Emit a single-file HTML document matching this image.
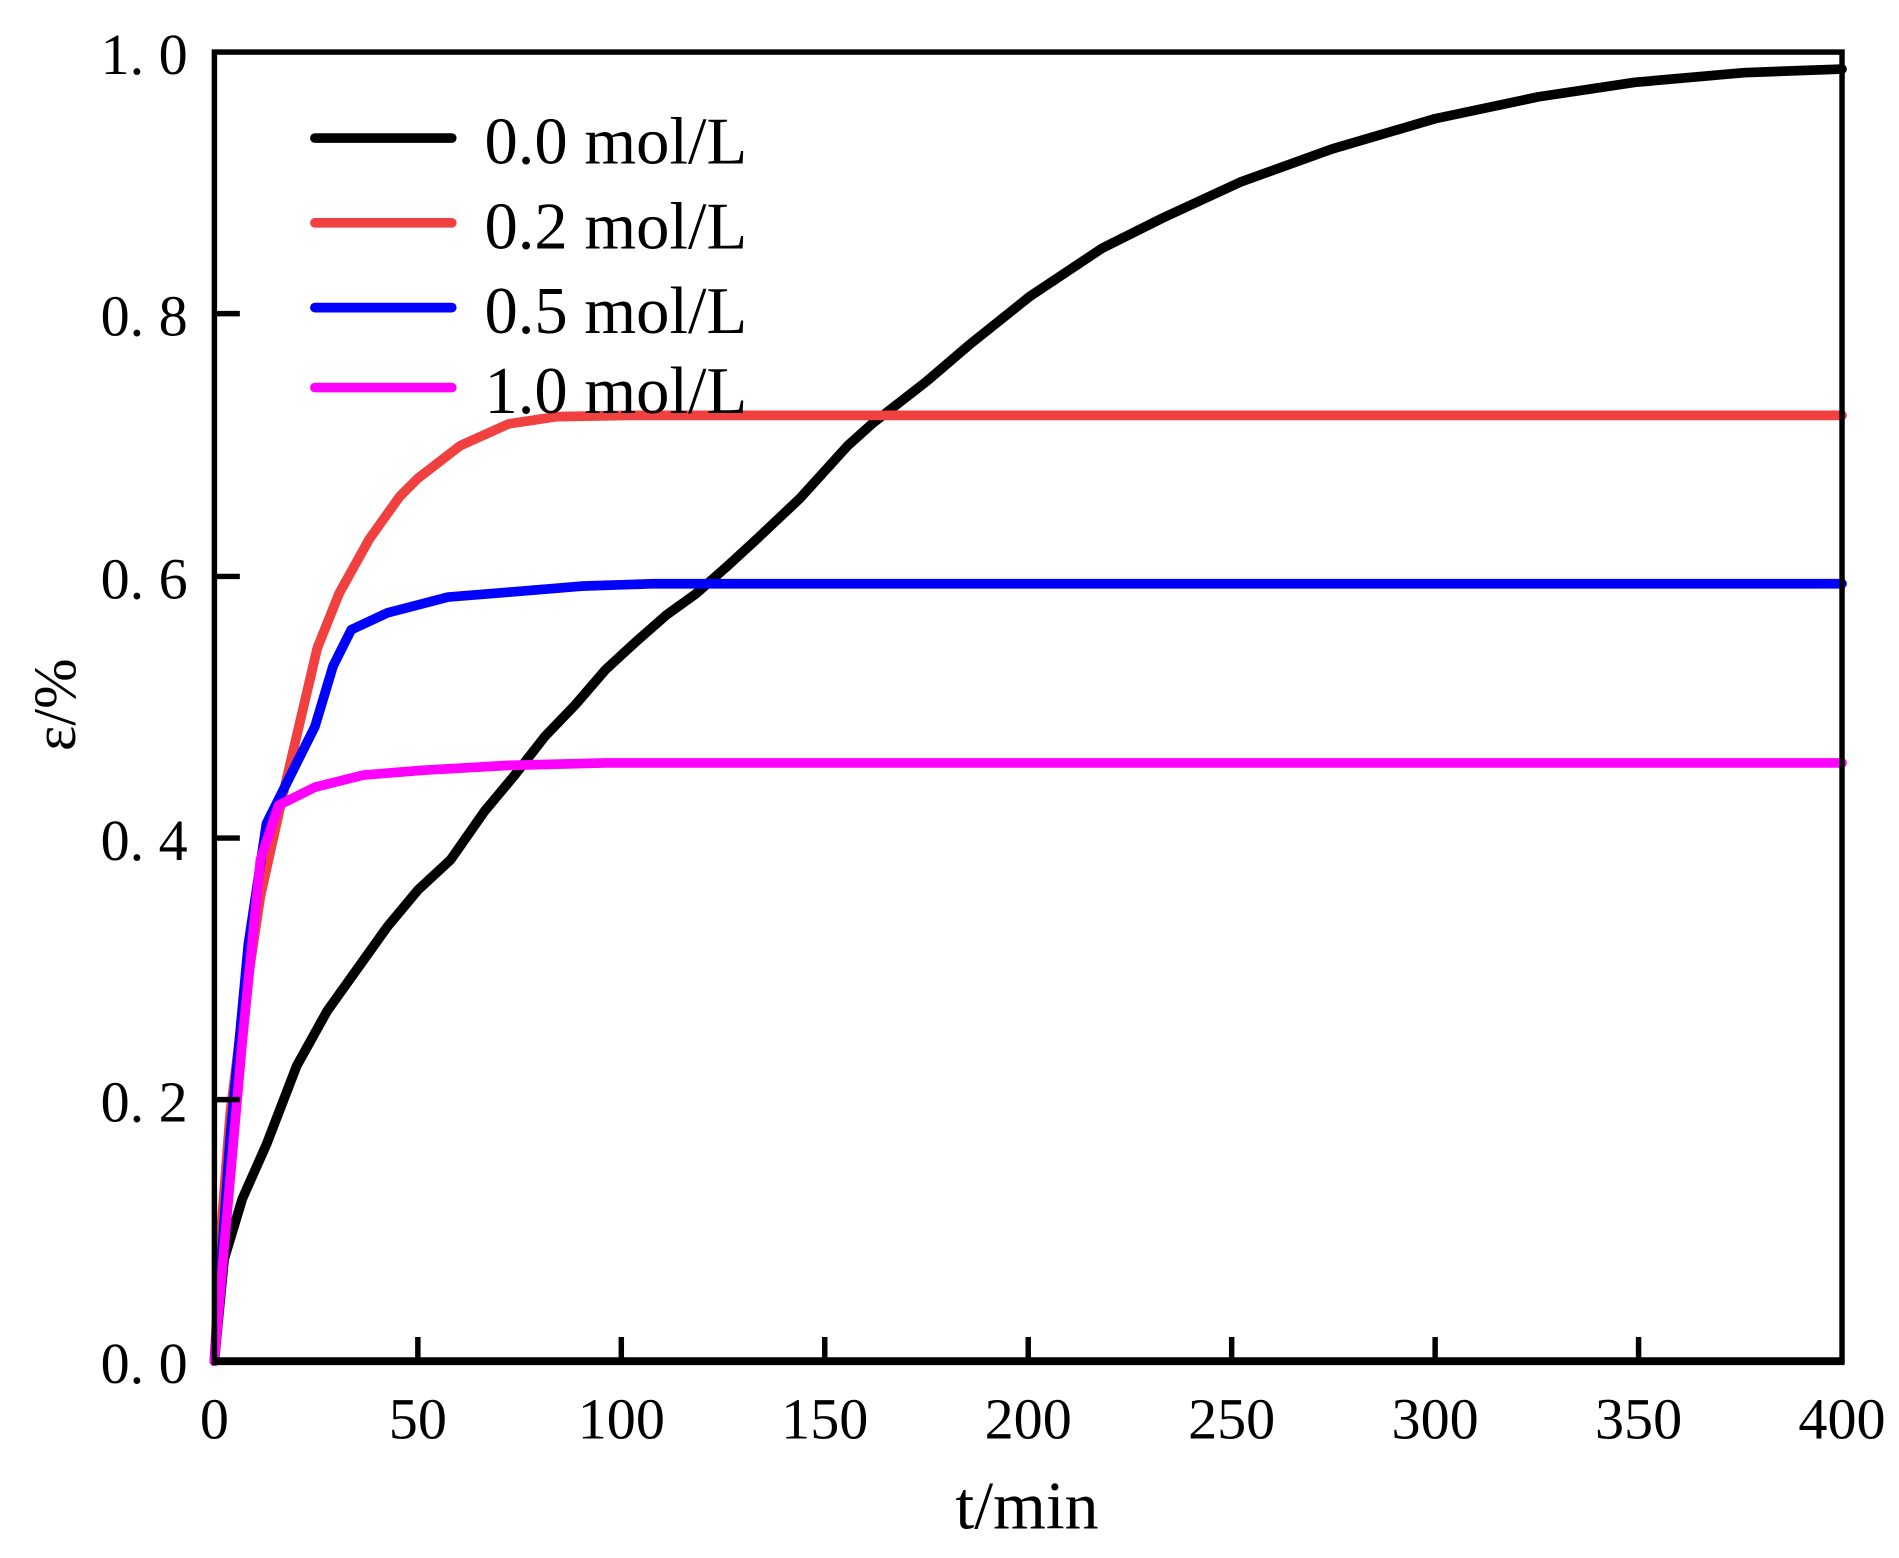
<!DOCTYPE html>
<html><head><meta charset="utf-8"><style>html,body{margin:0;padding:0;background:#fff}svg{display:block}</style></head><body>
<svg width="1899" height="1558" viewBox="0 0 1568 1286.5" xmlns="http://www.w3.org/2000/svg" font-family="'Liberation Serif', serif">
<rect width="1568" height="1286.5" fill="#fff"/>
<g fill="none" stroke-width="8" stroke-linejoin="round" stroke-linecap="round">
<polyline stroke="#000" points="177,1124 185,1040 200,990 220,945 245,880 270,835 295,800 320,765 345,735 372,710 400,670 425,640 450,608 475,582 500,553 525,530 550,508 575,490 600,468 625,445 660,412 700,368 720,350 765,315 800,285 850,245 910,205 960,180 1025,150 1100,123 1185,98 1270,80 1350,68 1440,60 1521,57"/>
<polyline stroke="#f04040" points="177,1124 183,1010 190,920 200,840 215,740 235,650 262,535 280,490 305,445 330,410 345,395 380,368 420,350 460,344 520,343 1521,343"/>
<polyline stroke="#0000ff" points="177,1124 190,940 205,780 220,680 240,640 260,600 275,550 290,520 320,506 370,493 420,489 480,484 540,482 1521,482"/>
<polyline stroke="#ff00ff" points="177,1124 185,1030 200,860 215,710 230,665 260,650 300,640 350,636 420,632 500,630 1521,630"/>
</g>
<g stroke="#000" stroke-width="4.5" fill="none">
<rect x="177" y="43" width="1344" height="1081"/>
<line x1="175" y1="1124" x2="1523" y2="1124" stroke-width="6.5"/>
<path d="M345,1124v-20M513,1124v-20M681,1124v-20M849,1124v-20M1017,1124v-20M1185,1124v-20M1353,1124v-20M177,908h21M177,692h21M177,476h21M177,259h21"/>
</g>
<g font-size="48" text-anchor="end" fill="#000">
<text x="155" y="1142">0. 0</text><text x="155" y="926">0. 2</text><text x="155" y="710">0. 4</text><text x="155" y="494">0. 6</text><text x="155" y="277">0. 8</text><text x="155" y="61">1. 0</text>
</g>
<g font-size="48" text-anchor="middle" fill="#000">
<text x="177" y="1188">0</text><text x="345" y="1188">50</text><text x="513" y="1188">100</text><text x="681" y="1188">150</text><text x="849" y="1188">200</text><text x="1017" y="1188">250</text><text x="1185" y="1188">300</text><text x="1353" y="1188">350</text><text x="1521" y="1188">400</text>
</g>
<text x="848" y="1262" font-size="56" text-anchor="middle">t/min</text>
<text transform="translate(62,582) rotate(-90)" font-size="50" text-anchor="middle">ε/%</text>
<g stroke-width="8" stroke-linecap="round">
<line x1="260" y1="114" x2="373" y2="114" stroke="#000"/>
<line x1="260" y1="184" x2="373" y2="184" stroke="#f04040"/>
<line x1="260" y1="254" x2="373" y2="254" stroke="#0000ff"/>
<line x1="260" y1="320" x2="373" y2="320" stroke="#ff00ff"/>
</g>
<g font-size="55" fill="#000">
<text x="400" y="135">0.0 mol/L</text><text x="400" y="205">0.2 mol/L</text><text x="400" y="275">0.5 mol/L</text><text x="400" y="341">1.0 mol/L</text>
</g>
</svg>
</body></html>
